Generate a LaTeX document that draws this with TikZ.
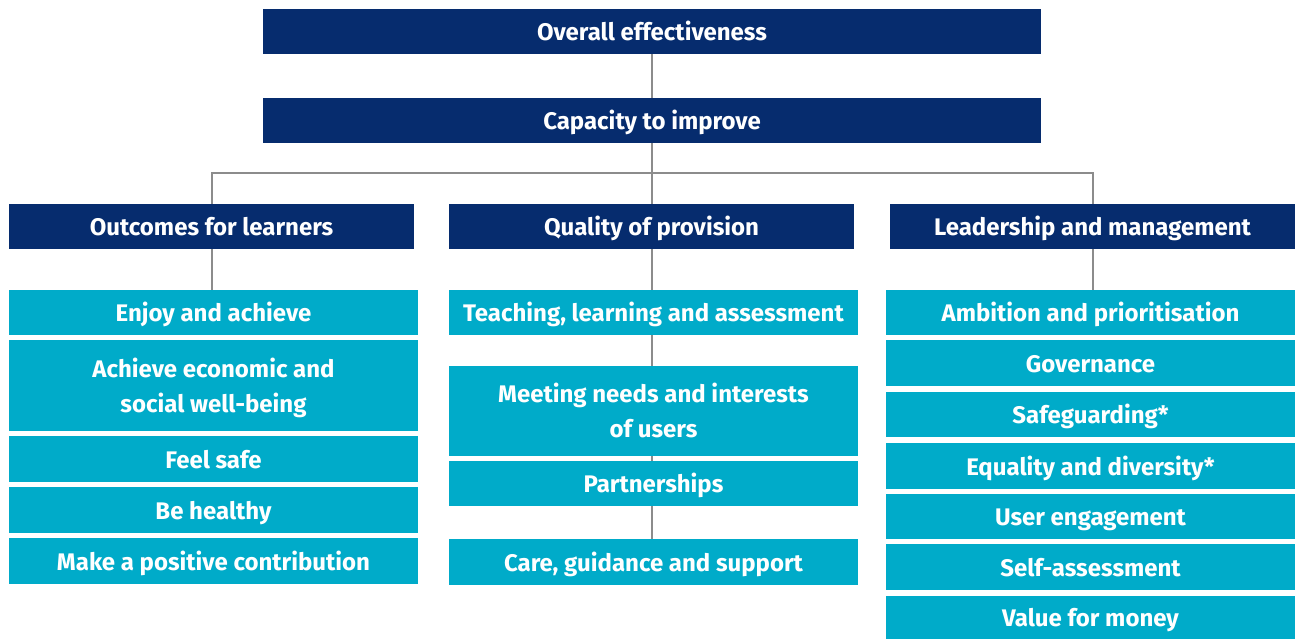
\documentclass[tikz,border=0pt]{standalone}
\usepackage{fontspec}
\setmainfont{Fira Sans}
\definecolor{navy}{HTML}{062C6E}
\definecolor{teal}{HTML}{00ABC9}
\definecolor{conn}{HTML}{8C8C8C}
\begin{document}
\begin{tikzpicture}[x=1pt,y=-1pt,
  box/.style={rectangle, inner sep=0pt, text=white, align=center,
    text height=18.6pt, text depth=0pt,
    font=\bfseries\fontsize{24}{35}\selectfont},
  two/.style={text height=53.6pt},
  dark/.style={box, fill=navy, minimum height=45pt},
  light/.style={box, fill=teal},
  wide/.style={minimum width=778pt},
  col/.style={minimum width=405pt},
  lcol/.style={minimum width=409pt},
  link/.style={draw=conn, line width=2pt}]
\useasboundingbox (0,0) rectangle (1295,639);
% top
\node[dark, wide] (oe) at (652,31.5) {Overall effectiveness};
\node[dark, wide] (cti) at (652,120.5) {Capacity to improve};
% second level
\node[dark, col] (ol) at (211.5,226.5) {Outcomes for learners};
\node[dark, col] (qp) at (651.5,226.5) {Quality of provision};
\node[dark, col] (lm) at (1092.5,226.5) {Leadership and management};
\coordinate (bar) at (652,173);
% left column
\node[light, lcol, minimum height=45pt] (ea) at (213.5,312.5) {Enjoy and achieve};
\node[light, lcol, minimum height=91pt, two] (aes) at (213.5,385.5) {Achieve economic and\\social well-being};
\node[light, lcol, minimum height=46pt] (fs) at (213.5,459) {Feel safe};
\node[light, lcol, minimum height=46pt] (bh) at (213.5,510) {Be healthy};
\node[light, lcol, minimum height=46pt] (mpc) at (213.5,561) {Make a positive contribution};
% middle column
\node[light, lcol, minimum height=45pt] (tla) at (653.5,312.5) {Teaching, learning and assessment};
\node[light, lcol, minimum height=90pt, two] (mn) at (653.5,411) {Meeting needs and interests\\of users};
\node[light, lcol, minimum height=45pt] (pa) at (653.5,483.5) {Partnerships};
\node[light, lcol, minimum height=46pt] (cg) at (653.5,562) {Care, guidance and support};
% right column
\node[light, lcol, minimum height=45pt] (ap) at (1090.5,312.5) {Ambition and prioritisation};
\node[light, lcol, minimum height=46pt] (gov) at (1090.5,363) {Governance};
\node[light, lcol, minimum height=45pt] (sg) at (1090.5,414.5) {Safeguarding*};
\node[light, lcol, minimum height=46pt] (ed) at (1090.5,466) {Equality and diversity*};
\node[light, lcol, minimum height=45pt] (ue) at (1090.5,516.5) {User engagement};
\node[light, lcol, minimum height=46pt] (sa) at (1090.5,567) {Self-assessment};
\node[light, lcol, minimum height=43pt] (vm) at (1090.5,617.5) {Value for money};
% connectors
\draw[link] (oe.south) -- (cti.north);
\draw[link] (cti.south) -- (qp.north -| cti.south);
\draw[link] (ol.north) |- (bar) -| (lm.north);
\draw[link] (ol.south) -- (ol.south |- ea.north);
\draw[link] (lm.south) -- (lm.south |- ap.north);
\draw[link] (qp.south -| cti.south) -- (tla.north -| cti.south);
\draw[link] (tla.south -| cti.south) -- (mn.north -| cti.south);
\draw[link] (mn.south -| cti.south) -- (pa.north -| cti.south);
\draw[link] (pa.south -| cti.south) -- (cg.north -| cti.south);
\end{tikzpicture}
\end{document}
